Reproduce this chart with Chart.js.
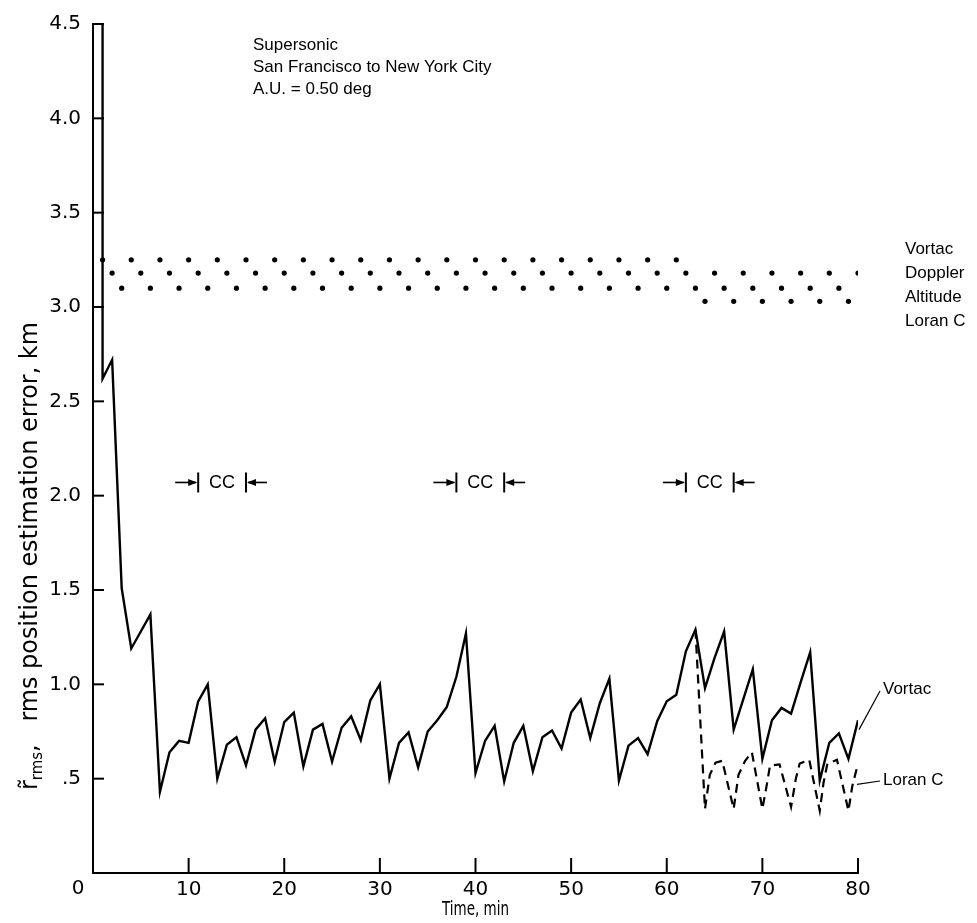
<!DOCTYPE html>
<html>
<head>
<meta charset="utf-8">
<script src="https://cdn.jsdelivr.net/npm/chart.js@4.4.0/dist/chart.umd.min.js"></script>
<style>
  html, body { margin: 0; padding: 0; background: #fff; }
  #wrap { width: 977px; height: 923px; }
</style>
</head>
<body>
<div id="wrap"><canvas id="chart" width="977" height="923"></canvas></div>
<script>
// Axis ticks
const timeTickValues = [0, 10, 20, 30, 40, 50, 60, 70, 80];
const errorTickLabels = ['', '.5', '1.0', '1.5', '2.0', '2.5', '3.0', '3.5', '4.0', '4.5'];

// Vortac estimator, rms position error (km) against time (min)
const vortacTime = [1, 1, 2, 3, 4, 5, 6, 7, 8, 9, 10,
  11, 12, 13, 14, 15, 16, 17, 18, 19, 20,
  21, 22, 23, 24, 25, 26, 27, 28, 29, 30,
  31, 32, 33, 34, 35, 36, 37, 38, 39, 40,
  41, 42, 43, 44, 45, 46, 47, 48, 49, 50,
  51, 52, 53, 54, 55, 56, 57, 58, 59, 60,
  61, 62, 63, 64, 65, 66, 67, 68, 69, 70,
  71, 72, 73, 74, 75, 76, 77, 78, 79, 80];
const vortacError = [4.5, 2.62, 2.72, 1.51, 1.19, 1.28, 1.37, 0.43, 0.64, 0.70, 0.69,
  0.91, 1.00, 0.50, 0.68, 0.72, 0.57, 0.76, 0.82, 0.59, 0.80,
  0.85, 0.565, 0.76, 0.79, 0.59, 0.77, 0.83, 0.705, 0.915, 1.00,
  0.50, 0.69, 0.745, 0.56, 0.75, 0.81, 0.88, 1.04, 1.27, 0.53,
  0.70, 0.78, 0.485, 0.69, 0.78, 0.54, 0.72, 0.755, 0.66, 0.85,
  0.92, 0.715, 0.90, 1.03, 0.49, 0.675, 0.715, 0.63, 0.805, 0.91,
  0.945, 1.175, 1.29, 0.98, 1.14, 1.28, 0.76, 0.92, 1.08, 0.605,
  0.81, 0.875, 0.845, 1.01, 1.17, 0.49, 0.69, 0.74, 0.605, 0.81];

// Loran C estimator after the switch at 63 min
const loranTime = [63, 64, 64.5, 65.1, 65.8, 67, 67.5, 68.2, 68.9, 70, 70.4, 70.8, 71.8,
  73, 73.5, 73.9, 74.9, 76, 76.4, 76.8, 77.8, 79, 79.4, 80];
const loranError = [1.29, 0.34, 0.52, 0.585, 0.595, 0.34, 0.52, 0.595, 0.64, 0.34, 0.45, 0.57, 0.575,
  0.35, 0.50, 0.58, 0.60, 0.33, 0.48, 0.58, 0.60, 0.33, 0.46, 0.58];

// Measurement schedule: one fix per minute, cycling through the sensors
const vortacFixTimes = [1, 4, 7, 10, 13, 16, 19, 22, 25, 28, 31, 34, 37, 40, 43, 46, 49, 52, 55, 58, 61];
const dopplerFixTimes = [2, 5, 8, 11, 14, 17, 20, 23, 26, 29, 32, 35, 38, 41, 44, 47, 50, 53, 56, 59,
  62, 65, 68, 71, 74, 77, 80];
const altitudeFixTimes = [3, 6, 9, 12, 15, 18, 21, 24, 27, 30, 33, 36, 39, 42, 45, 48, 51, 54, 57, 60,
  63, 66, 69, 72, 75, 78];
const loranFixTimes = [64, 67, 70, 73, 76, 79];
const sensorNames = ['Vortac', 'Doppler', 'Altitude', 'Loran C'];
const sensorRowLevels = [3.25, 3.18, 3.10, 3.03];

// Course-change intervals (min) and the level where they are marked
const ccIntervals = [[11, 16], [38, 43], [62, 67]];
const ccLevel = 2.07;

const caseLines = ['Supersonic', 'San Francisco to New York City', 'A.U. = 0.50 deg'];

const TICK_FONT = '20px "DejaVu Sans", sans-serif';
const TEXT_FONT = '17px "Liberation Sans", Arial, sans-serif';
const NARROW_FAMILY = '"DejaVu Sans Condensed", "DejaVu Sans", sans-serif';

function fixRow(times, level) {
  return times.map(t => ({ x: t, y: level }));
}

function line(ctx, x1, y1, x2, y2) {
  ctx.beginPath();
  ctx.moveTo(x1, y1);
  ctx.lineTo(x2, y2);
  ctx.stroke();
}

function arrowHead(ctx, tipX, tipY, dir) {
  ctx.beginPath();
  ctx.moveTo(tipX, tipY);
  ctx.lineTo(tipX - dir * 9, tipY - 3.5);
  ctx.lineTo(tipX - dir * 9, tipY + 3.5);
  ctx.closePath();
  ctx.fill();
}

// Draws a run of [text, size, rise] pieces left to right, squeezed to a given length
function drawRun(ctx, pieces, length) {
  let natural = 0;
  pieces.forEach(([s, size]) => {
    ctx.font = size + 'px ' + NARROW_FAMILY;
    natural += ctx.measureText(s).width;
  });
  ctx.save();
  ctx.scale(length / natural, 1);
  let pos = 0;
  pieces.forEach(([s, size, rise]) => {
    ctx.font = size + 'px ' + NARROW_FAMILY;
    ctx.fillText(s, pos, rise);
    pos += ctx.measureText(s).width;
  });
  ctx.restore();
}

const decorations = {
  id: 'decorations',
  afterDraw(chart) {
    const { ctx, chartArea: a, scales: { x, y } } = chart;
    ctx.save();
    ctx.strokeStyle = '#000';
    ctx.fillStyle = '#000';

    // inward tick marks
    ctx.lineWidth = 2;
    y.ticks.forEach(t => {
      if (t.value > 0) {
        const py = y.getPixelForValue(t.value);
        line(ctx, a.left, py, a.left + 11, py);
      }
    });
    x.ticks.forEach(t => {
      if (t.value > 0) {
        const px = x.getPixelForValue(t.value);
        line(ctx, px, a.bottom, px, a.bottom - 15);
      }
    });

    // origin label, set off to the lower left of the corner
    ctx.font = TICK_FONT;
    ctx.textAlign = 'center';
    ctx.textBaseline = 'middle';
    ctx.fillText('0', x.getPixelForValue(0) - 15, a.bottom + 16);

    // flight case description
    ctx.font = TEXT_FONT;
    ctx.textAlign = 'left';
    ctx.textBaseline = 'alphabetic';
    caseLines.forEach((s, i) => ctx.fillText(s, 253, 50 + i * 22));

    // sensor names beside the fix schedule
    ctx.textBaseline = 'middle';
    sensorNames.forEach((s, i) => ctx.fillText(s, 905, 249 + i * 24));

    // course-change markers
    ccIntervals.forEach(([t0, t1]) => {
      const x0 = x.getPixelForValue(t0);
      const x1 = x.getPixelForValue(t1);
      const py = y.getPixelForValue(ccLevel);
      ctx.lineWidth = 2;
      line(ctx, x0, py - 10, x0, py + 10);
      line(ctx, x1, py - 10, x1, py + 10);
      ctx.lineWidth = 1.6;
      line(ctx, x0 - 23, py, x0 - 2, py);
      arrowHead(ctx, x0 - 1, py, 1);
      line(ctx, x1 + 2, py, x1 + 21, py);
      arrowHead(ctx, x1 + 1, py, -1);
      ctx.font = '18px "Liberation Sans", Arial, sans-serif';
      ctx.textAlign = 'center';
      ctx.textBaseline = 'middle';
      ctx.fillText('CC', (x0 + x1) / 2, py + 1);
    });

    // curve labels with leader lines
    ctx.lineWidth = 1.2;
    const vx = x.getPixelForValue(80);
    line(ctx, vx + 1, y.getPixelForValue(0.76), 880, 691);
    line(ctx, vx - 1, y.getPixelForValue(0.47), 880, 781);
    ctx.font = TEXT_FONT;
    ctx.textAlign = 'left';
    ctx.textBaseline = 'middle';
    ctx.fillText('Vortac', 883, 689);
    ctx.fillText('Loran C', 883, 780);

    // y-axis title, reading upward
    ctx.save();
    ctx.translate(31, 790);
    ctx.rotate(-Math.PI / 2);
    ctx.textAlign = 'left';
    ctx.textBaseline = 'middle';
    drawRun(ctx, [
      ['r\u0303', 24, 0],
      ['rms', 15, 7],
      [',   rms position estimation error, km', 24, 0]
    ], 468);
    ctx.restore();

    // x-axis title
    ctx.save();
    ctx.translate(442, 910);
    ctx.textAlign = 'left';
    ctx.textBaseline = 'middle';
    drawRun(ctx, [['Time, min', 20, 0]], 67);
    ctx.restore();

    ctx.restore();
  }
};

const dotStyle = {
  type: 'scatter',
  pointRadius: 2.6,
  pointBackgroundColor: '#000',
  pointBorderWidth: 0,
  showLine: false
};

new Chart(document.getElementById('chart'), {
  type: 'line',
  data: {
    datasets: [
      {
        label: 'Vortac',
        data: vortacTime.map((t, i) => ({ x: t, y: vortacError[i] })),
        borderColor: '#000',
        borderWidth: 2.4,
        pointRadius: 0,
        tension: 0,
        fill: false
      },
      {
        label: 'Loran C',
        data: loranTime.map((t, i) => ({ x: t, y: loranError[i] })),
        borderColor: '#000',
        borderWidth: 2.2,
        borderDash: [9, 6],
        pointRadius: 0,
        tension: 0,
        fill: false
      },
      Object.assign({ label: 'Vortac fixes', data: fixRow(vortacFixTimes, sensorRowLevels[0]) }, dotStyle),
      Object.assign({ label: 'Doppler fixes', data: fixRow(dopplerFixTimes, sensorRowLevels[1]) }, dotStyle),
      Object.assign({ label: 'Altitude fixes', data: fixRow(altitudeFixTimes, sensorRowLevels[2]) }, dotStyle),
      Object.assign({ label: 'Loran C fixes', data: fixRow(loranFixTimes, sensorRowLevels[3]) }, dotStyle)
    ]
  },
  options: {
    responsive: false,
    animation: false,
    devicePixelRatio: 1,
    layout: { padding: { top: 20, right: 119, left: 0, bottom: 0 } },
    plugins: { legend: { display: false }, tooltip: { enabled: false } },
    scales: {
      x: {
        type: 'linear',
        min: 0,
        max: 80,
        afterBuildTicks: s => { s.ticks = timeTickValues.map(v => ({ value: v })); },
        afterFit: s => { s.height = 50; },
        grid: { display: true, drawOnChartArea: false, drawTicks: false },
        border: { display: true, color: '#000', width: 2 },
        ticks: {
          color: '#000',
          font: { family: '"DejaVu Sans", sans-serif', size: 20 },
          padding: 5,
          maxRotation: 0,
          callback: v => (v === 0 ? '' : String(v))
        }
      },
      y: {
        type: 'linear',
        min: 0,
        max: 4.5,
        afterBuildTicks: s => { s.ticks = errorTickLabels.map((_, i) => ({ value: i * 0.5 })); },
        afterFit: s => { s.width = 93; },
        grid: { display: true, drawOnChartArea: false, drawTicks: false },
        border: { display: true, color: '#000', width: 2 },
        ticks: {
          color: '#000',
          font: { family: '"DejaVu Sans", sans-serif', size: 20 },
          padding: 12,
          callback: (v, i) => errorTickLabels[i]
        }
      }
    }
  },
  plugins: [decorations]
});
</script>
</body>
</html>
